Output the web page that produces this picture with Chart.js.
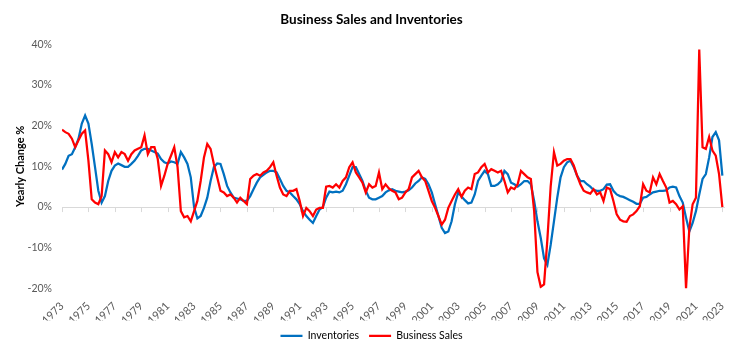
<!DOCTYPE html>
<html>
<head>
<meta charset="utf-8">
<script src="https://cdn.jsdelivr.net/npm/chart.js@4/dist/chart.umd.min.js"></script>
<style>
  body { margin: 0; background: #fff; }
  #wrap { width: 737px; height: 353px; }
</style>
</head>
<body>
<div id="wrap"><canvas id="chart1"></canvas></div>
<script>
// yearly % change, one value per quarter from Q1 1973 to Q1 2023
const startYear = 1973;
const yearTicks = [1973, 1975, 1977, 1979, 1981, 1983, 1985, 1987, 1989, 1991, 1993, 1995, 1997,
  1999, 2001, 2003, 2005, 2007, 2009, 2011, 2013, 2015, 2017, 2019, 2021, 2023];

const inventories = [
  9.2, 10.6, 12.6, 13.0,   14.7, 16.8, 20.5, 22.5,   20.5, 15.5, 9.8, 4.0,   1.1, 2.7, 6.4, 8.9,
  10.2, 10.7, 10.3, 9.9,   9.9, 10.6, 11.4, 12.6,   13.9, 14.3, 14.3, 13.9,   13.5, 13.1, 11.8, 11.0,
  10.7, 11.2, 11.0, 10.6,  13.5, 12.2, 10.6, 7.3,   0.0, -2.8, -2.2, -0.2,   2.3, 6.4, 9.8, 10.7,
  10.6, 8.1, 5.2, 3.6,     2.3, 2.1, 1.9, 1.5,     1.5, 2.7, 4.4, 6.0,     7.3, 7.9, 8.5, 8.9,
  8.9, 8.5, 6.9, 5.2,      4.0, 3.6, 2.7, 1.9,     0.7, -1.0, -2.2, -3.1,  -3.9, -2.2, -0.6, 0.0,
  2.3, 3.8, 3.6, 3.8,      3.6, 4.0, 5.6, 7.7,     9.8, 9.8, 8.1, 6.4,     4.0, 2.3, 1.9, 1.9,
  2.3, 2.7, 3.6, 4.1,      4.4, 4.0, 3.8, 3.6,     3.8, 4.1, 4.8, 5.8,     6.4, 7.3, 6.9, 5.6,
  3.6, 0.7, -2.2, -5.1,    -6.4, -6.0, -3.5, 0.7,  3.6, 2.6, 1.7, 0.9,     1.1, 3.1, 6.4, 7.7,
  8.9, 8.1, 5.2, 5.2,      5.6, 6.4, 8.9, 8.1,     6.0, 5.6, 5.0, 5.6,     6.4, 6.4, 5.6, 1.5,
  -3.5, -7.6, -12.6, -14.2, -9.3, -3.5, 2.3, 7.3, 9.8, 11.0, 11.4, 9.8,   7.7, 6.4, 6.4, 5.6,
  5.0, 4.2, 4.0, 4.0,      4.4, 5.5, 5.6, 4.0,     3.1, 2.7, 2.5, 2.1,     1.7, 1.3, 0.8, 0.8,
  2.3, 2.5, 3.1, 3.6,      3.8, 4.0, 4.0, 4.1,     4.8, 5.0, 4.8, 2.7,     1.1, -2.6, -6.0, -3.9,
  -1.0, 3.1, 6.9, 8.1,     12.2, 17.2, 18.4, 16.4, 7.7
];

const businessSales = [
  19.0, 18.4, 18.0, 16.8,  14.7, 16.4, 18.0, 18.8,  11.4, 1.9, 1.1, 0.7,    2.7, 13.9, 13.0, 11.0,
  13.5, 12.2, 13.5, 13.0,  11.4, 13.0, 13.9, 14.3,  14.7, 17.6, 13.0, 14.7,  14.7, 11.8, 5.2, 7.7,
  10.6, 12.6, 14.7, 9.8,   -1.0, -2.5, -2.2, -3.5,  -1.0, 1.5, 6.4, 12.2,   15.5, 14.3, 10.6, 7.3,
  4.0, 3.6, 2.7, 3.1,      2.3, 1.1, 2.3, 1.5,      0.7, 6.9, 7.7, 8.1,     7.7, 8.5, 8.9, 9.8,
  11.0, 7.7, 4.8, 3.1,     2.7, 4.0, 4.0, 4.4,      1.5, -2.2, -0.2, -1.0,  -2.2, -0.6, -0.2, -0.2,
  5.0, 5.2, 4.8, 5.6,      4.8, 6.4, 7.3, 9.8,      11.0, 8.5, 7.3, 6.0,    3.6, 5.6, 4.8, 5.2,
  8.5, 4.4, 5.6, 4.6,      4.0, 3.6, 1.9, 2.3,      3.6, 4.4, 7.3, 8.1,     8.9, 7.3, 6.4, 4.0,
  1.5, -0.2, -2.2, -4.3,   -3.1, -0.2, 1.5, 3.1,    4.4, 2.5, 4.0, 4.8,     4.4, 8.1, 8.5, 9.8,
  10.6, 8.5, 9.3, 8.9,     8.5, 8.9, 6.4, 3.6,      4.8, 4.4, 5.6, 8.9,     8.1, 7.3, 6.9, -1.0,
  -16.0, -19.6, -19.0, -8.0, 5.0, 13.5, 10.2, 10.6, 11.4, 11.8, 11.8, 10.2, 7.7, 5.6, 4.0, 3.6,
  3.3, 4.4, 3.1, 3.6,      1.5, 4.8, 4.4, 1.5,      -1.8, -3.1, -3.5, -3.6, -2.2, -1.8, -1.0, 0.2,
  5.6, 4.0, 3.6, 7.3,      5.6, 8.1, 6.4, 4.8,      1.1, 1.5, 0.7, -0.6,    0.2, -20.0, -5.1, 0.7,
  2.3, 38.7, 14.7, 14.3,   17.2, 13.9, 12.6, 8.1,   0.0
];

const quarters = inventories.map((v, i) => startYear + i / 4);

Chart.defaults.font.family = 'Lato';
Chart.defaults.font.size = 10;

// small tick marks hanging under the 0% line, like the excel axis
const zeroTicks = {
  id: 'zeroTicks',
  beforeDatasetsDraw(chart) {
    const x = chart.scales.x, y = chart.scales.y;
    const y0 = y.getPixelForValue(0);
    const c = chart.ctx;
    c.save();
    c.strokeStyle = '#d9d9d9';
    c.lineWidth = 1;
    yearTicks.forEach(t => {
      const px = Math.round(x.getPixelForValue(t)) + 0.5;
      c.beginPath();
      c.moveTo(px, y0);
      c.lineTo(px, y0 + 5);
      c.stroke();
    });
    c.restore();
  }
};

const ctx = document.getElementById('chart1').getContext('2d');
const chart1 = new Chart(ctx, {
  type: 'line',
  data: {
    datasets: [
      {
        label: 'Inventories',
        data: quarters.map((q, i) => ({ x: q, y: inventories[i] })),
        borderColor: '#0070C0',
        backgroundColor: '#0070C0',
        borderWidth: 2.25,
        pointRadius: 0,
        fill: false,
        order: 2
      },
      {
        label: 'Business Sales',
        data: quarters.map((q, i) => ({ x: q, y: businessSales[i] })),
        borderColor: '#FF0000',
        backgroundColor: '#FF0000',
        borderWidth: 2.25,
        pointRadius: 0,
        fill: false,
        order: 1
      }
    ]
  },
  options: {
    responsive: true,
    maintainAspectRatio: false,
    animation: false,
    layout: { padding: { left: 18, right: 12, top: 0, bottom: 2 } },
    plugins: {
      title: {
        display: true,
        text: 'Business Sales and Inventories',
        color: '#000',
        font: { size: 13.5, weight: 'bold' },
        padding: { top: 12, bottom: 16 }
      },
      legend: {
        position: 'bottom',
        labels: {
          usePointStyle: true,
          pointStyle: 'line',
          pointStyleWidth: 22,
          color: '#000',
          font: { size: 10.5 },
          padding: 10,
          sort: (a, b) => a.datasetIndex - b.datasetIndex
        }
      },
      tooltip: { enabled: false }
    },
    scales: {
      x: {
        type: 'linear',
        min: 1973,
        max: 2023.2,
        afterBuildTicks: axis => { axis.ticks = yearTicks.map(v => ({ value: v })); },
        afterFit: axis => { axis.height = 32; },
        ticks: {
          autoSkip: false,
          minRotation: 45,
          maxRotation: 45,
          color: '#595959',
          font: { size: 11 },
          callback: v => String(v)
        },
        grid: { display: false },
        border: { display: false }
      },
      y: {
        min: -20,
        max: 40,
        afterFit: axis => { axis.width = 44; },
        ticks: {
          stepSize: 10,
          color: '#595959',
          font: { size: 10.5 },
          padding: 10,
          callback: v => v + '%'
        },
        grid: {
          drawTicks: false,
          color: c => c.tick.value === 0 ? '#d9d9d9' : 'rgba(0,0,0,0)'
        },
        border: { display: false },
        title: {
          display: true,
          text: 'Yearly Change %',
          color: '#000',
          font: { size: 11, weight: 'bold' },
          padding: { top: -4, bottom: 0 }
        }
      }
    }
  },
  plugins: [zeroTicks]
});
</script>
</body>
</html>
